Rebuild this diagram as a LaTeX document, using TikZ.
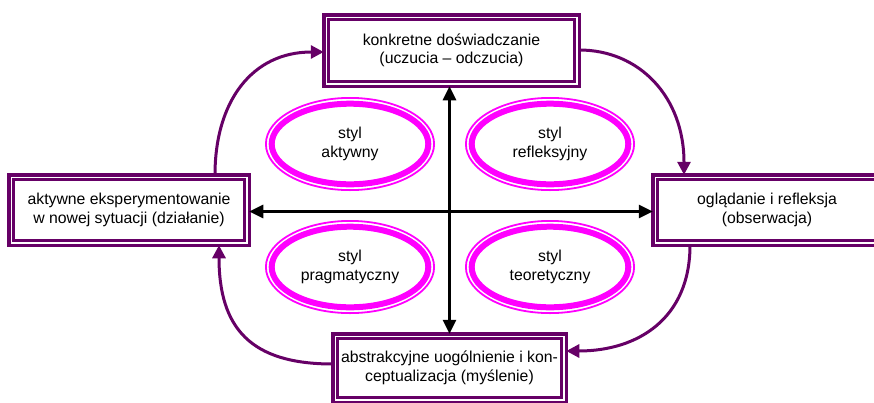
\documentclass[tikz,border=0pt]{standalone}
\usepackage{fontspec}
\setmainfont{Liberation Sans}
\usetikzlibrary{arrows.meta,calc,shapes.geometric}
\definecolor{boxpurple}{RGB}{102,0,102}
\definecolor{elmag}{RGB}{255,0,255}
\begin{document}
\begin{tikzpicture}[x=1pt,y=-1pt,
  font=\fontsize{15.8}{18.5}\selectfont,
  stagebox/.style={draw=boxpurple, line width=3.5pt, fill=white, align=center, inner sep=0pt, outer sep=0pt},
  styleell/.style={ellipse, draw=elmag, line width=1.8pt, align=center, inner sep=0pt, outer sep=0pt,
                   minimum width=168.2pt, minimum height=92.2pt},
  cyc/.style={draw=boxpurple, line width=3pt, -{Triangle[length=13pt,width=13pt]}},
  axis/.style={draw=black, line width=3pt, {Triangle[length=14pt,width=13pt]}-{Triangle[length=14pt,width=13pt]}}
]
\useasboundingbox (0,0) rectangle (874,402);
\clip (0,0) rectangle (874,402);

% stage boxes
\node[stagebox, minimum width=255.5pt, minimum height=71.5pt] (top) at (451.5,50.5)
  {konkretne doświadczanie\\(uczucia – odczucia)};
\node[stagebox, minimum width=240.5pt, minimum height=70.5pt] (left) at (129,210)
  {aktywne eksperymentowanie\\w nowej sytuacji (działanie)};
\node[stagebox, minimum width=228.5pt, minimum height=70.5pt] (right) at (767,210)
  {oglądanie i refleksja\\(obserwacja)};
\node[stagebox, minimum width=233.5pt, minimum height=68.5pt] (bottom) at (449.5,368)
  {abstrakcyjne uogólnienie i kon-\\ceptualizacja (myślenie)};
\foreach \b in {top,left,right,bottom}{
  \draw[boxpurple, line width=2.2pt] ($(\b.north west)+(4.8,4.8)$) rectangle ($(\b.south east)+(-4.8,-4.8)$);
}

% style ellipses
\node[styleell] (e1) at (350,144) {styl\\aktywny};
\node[styleell] (e2) at (550,144) {styl\\refleksyjny};
\node[styleell] (e3) at (350,267) {styl\\pragmatyczny};
\node[styleell] (e4) at (550,267) {styl\\teoretyczny};
\foreach \e in {e1,e2,e3,e4}{
  \draw[elmag, line width=6pt] (\e.center) ellipse [x radius=78.3pt, y radius=40.3pt];
}

% axes
\draw[axis] (top.south -| bottom.north) -- (bottom.north);
\draw[axis] ($(left.east)+(0,1.5)$) -- ($(right.west)+(0,1.5)$);

% cycle arrows
\draw[cyc] ($(left.north)+(86,0)$) .. controls ($(left.north)+(86,-73)$) and ($(top.west)+(-72,1.5)$) .. ($(top.west)+(0,1.5)$);
\draw[cyc] ($(top.east)+(0,-0.5)$) .. controls ($(top.east)+(60,-0.5)$) and ($(right.north)+(-83,-78)$) .. ($(right.north)+(-83,0)$);
\draw[cyc] ($(right.south)+(-77,0)$) .. controls ($(right.south)+(-77,73)$) and ($(bottom.east)+(72,-17)$) .. ($(bottom.east)+(0,-17)$);
\draw[cyc] ($(bottom.west)+(0,-4)$) .. controls ($(bottom.west)+(-82,-4)$) and ($(left.south)+(90,83)$) .. ($(left.south)+(90,0)$);
\end{tikzpicture}
\end{document}
